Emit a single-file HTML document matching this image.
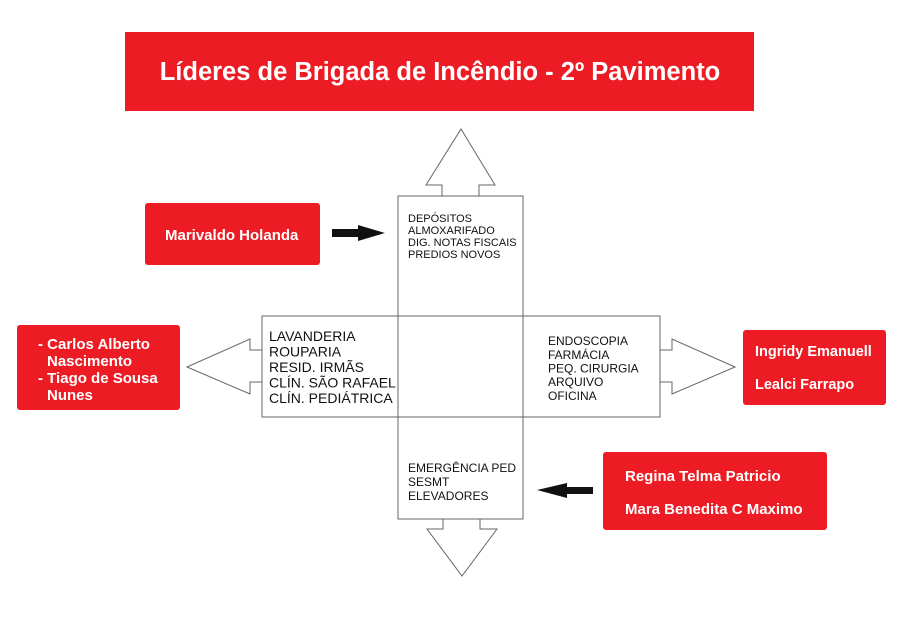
<!DOCTYPE html>
<html><head><meta charset="utf-8"><style>
html,body{margin:0;padding:0;background:#fff}
svg{display:block}
.w{font-family:"Liberation Sans",sans-serif;font-weight:bold;fill:#fff}
.k{font-family:"Liberation Sans",sans-serif;fill:#111}
</style></head><body>
<svg width="902" height="638" viewBox="0 0 902 638" xmlns="http://www.w3.org/2000/svg">
<rect x="125" y="32" width="629" height="79" fill="#ed1c24"/>
<text class="w" x="440" y="80" font-size="25.5" text-anchor="middle">Líderes de Brigada de Incêndio - 2º Pavimento</text>

<g fill="none" stroke="#666" stroke-width="1">
<rect x="262" y="316" width="398" height="101"/>
<rect x="398" y="196" width="125" height="323"/>
<polyline points="442,196 442,185 426,185 461,129 495,185 479,185 479,196" />
<polyline points="443,519 443,529 427,529 462,576 497,529 480,529 480,519"/>
<polyline points="262,350 250,350 250,339 187,367 250,394 250,382 262,382"/>
<polyline points="660,350 672,350 672,339 735,367 672,394 672,382 660,382"/>
</g>

<text class="k" font-size="11">
<tspan x="408" y="222">DEPÓSITOS</tspan>
<tspan x="408" y="234">ALMOXARIFADO</tspan>
<tspan x="408" y="246">DIG. NOTAS FISCAIS</tspan>
<tspan x="408" y="258">PREDIOS NOVOS</tspan>
</text>
<text class="k" font-size="14">
<tspan x="269" y="341">LAVANDERIA</tspan>
<tspan x="269" y="356.5">ROUPARIA</tspan>
<tspan x="269" y="372">RESID. IRMÃS</tspan>
<tspan x="269" y="387.5">CLÍN. SÃO RAFAEL</tspan>
<tspan x="269" y="403">CLÍN. PEDIÁTRICA</tspan>
</text>
<text class="k" font-size="12">
<tspan x="548" y="345">ENDOSCOPIA</tspan>
<tspan x="548" y="359">FARMÁCIA</tspan>
<tspan x="548" y="372.5">PEQ. CIRURGIA</tspan>
<tspan x="548" y="386">ARQUIVO</tspan>
<tspan x="548" y="400">OFICINA</tspan>
</text>
<text class="k" font-size="12">
<tspan x="408" y="472">EMERGÊNCIA PED</tspan>
<tspan x="408" y="486">SESMT</tspan>
<tspan x="408" y="500">ELEVADORES</tspan>
</text>

<polygon points="332,229 358,229 358,225 385,233 358,241 358,237 332,237" fill="#111"/>
<polygon points="593,487 567,487 567,483 537,490 567,498 567,494 593,494" fill="#111"/>

<rect x="145" y="203" width="175" height="62" rx="3" fill="#ed1c24"/>
<text class="w" x="165" y="240" font-size="15">Marivaldo Holanda</text>

<rect x="17" y="325" width="163" height="85" rx="3" fill="#ed1c24"/>
<text class="w" font-size="15">
<tspan x="38" y="349">- Carlos Alberto</tspan>
<tspan x="47" y="366">Nascimento</tspan>
<tspan x="38" y="383">- Tiago de Sousa</tspan>
<tspan x="47" y="400">Nunes</tspan>
</text>

<rect x="743" y="330" width="143" height="75" rx="3" fill="#ed1c24"/>
<text class="w" font-size="14.5">
<tspan x="755" y="356">Ingridy Emanuell</tspan>
<tspan x="755" y="389">Lealci Farrapo</tspan>
</text>

<rect x="603" y="452" width="224" height="78" rx="3" fill="#ed1c24"/>
<text class="w" font-size="15">
<tspan x="625" y="481">Regina Telma Patricio</tspan>
<tspan x="625" y="514">Mara Benedita C Maximo</tspan>
</text>
</svg>
</body></html>
